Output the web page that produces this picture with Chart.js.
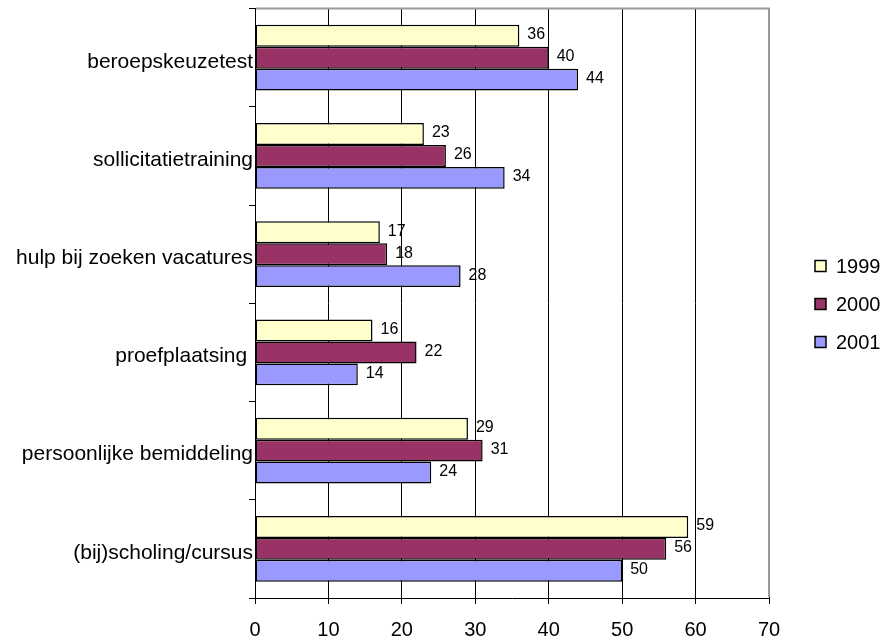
<!DOCTYPE html>
<html>
<head>
<meta charset="utf-8">
<script src="https://cdn.jsdelivr.net/npm/chart.js@4"></script>
<style>
  html, body { margin: 0; padding: 0; background: #fff; }
  #wrap { width: 884px; height: 642px; position: relative; }
</style>
</head>
<body>
<div id="wrap"><canvas id="grafiek"></canvas></div>
<script>
// Gegevens
const categorieen = [
  'beroepskeuzetest',
  'sollicitatietraining',
  'hulp bij zoeken vacatures',
  'proefplaatsing ',
  'persoonlijke bemiddeling',
  '(bij)scholing/cursus'
];
const jaren = ['1999', '2000', '2001'];
const waarden1999 = [36, 23, 17, 16, 29, 59];
const waarden2000 = [40, 26, 18, 22, 31, 56];
const waarden2001 = [44, 34, 28, 14, 24, 50];
const xTicks = [0, 10, 20, 30, 40, 50, 60, 70];

const kleuren = ['#FFFFCC', '#993366', '#9999FF'];
const lettertype = '"Liberation Sans", Arial, sans-serif';

// Waarden naast de balken
const waardeLabels = {
  id: 'waardeLabels',
  afterDatasetsDraw(chart) {
    const ctx = chart.ctx;
    ctx.save();
    ctx.font = '16px ' + lettertype;
    ctx.fillStyle = '#000';
    ctx.textAlign = 'left';
    ctx.textBaseline = 'middle';
    chart.data.datasets.forEach((ds, i) => {
      const meta = chart.getDatasetMeta(i);
      meta.data.forEach((el, j) => {
        ctx.fillText(String(ds.data[j]), el.x + 8, el.y - 1);
      });
    });
    ctx.restore();
  }
};

// Grijze rand boven en rechts van het plotgebied
const plotRand = {
  id: 'plotRand',
  afterDraw(chart) {
    const a = chart.chartArea;
    const ctx = chart.ctx;
    ctx.save();
    ctx.strokeStyle = '#9a9a9a';
    ctx.lineWidth = 2;
    ctx.beginPath();
    ctx.moveTo(a.left + 1, a.top);
    ctx.lineTo(a.right, a.top);
    ctx.lineTo(a.right, a.bottom - 1);
    ctx.stroke();
    ctx.restore();
  }
};

// Legenda rechts
const legenda = {
  id: 'legenda',
  afterDraw(chart) {
    const ctx = chart.ctx;
    ctx.save();
    ctx.font = '20px ' + lettertype;
    ctx.textAlign = 'left';
    ctx.textBaseline = 'middle';
    chart.data.datasets.forEach((ds, i) => {
      const y = 266 + i * 38;
      ctx.fillStyle = ds.backgroundColor;
      ctx.fillRect(815, y - 5.5, 11, 11);
      ctx.strokeStyle = '#000';
      ctx.lineWidth = 1.5;
      ctx.strokeRect(815, y - 5.5, 11, 11);
      ctx.fillStyle = '#000';
      ctx.fillText(ds.label, 836, y + 1);
    });
    ctx.restore();
  }
};

const reeksen = [waarden1999, waarden2000, waarden2001];

new Chart(document.getElementById('grafiek'), {
  type: 'bar',
  data: {
    labels: categorieen,
    datasets: reeksen.map((data, i) => ({
      label: jaren[i],
      data: data,
      backgroundColor: kleuren[i],
      borderColor: '#000',
      borderWidth: 1.5,
      borderSkipped: false,
      barPercentage: 1,
      categoryPercentage: 0.67
    }))
  },
  options: {
    indexAxis: 'y',
    responsive: true,
    maintainAspectRatio: false,
    animation: false,
    devicePixelRatio: 1,
    layout: { padding: { top: 8, right: 115, left: 0, bottom: 0 } },
    plugins: {
      legend: { display: false },
      tooltip: { enabled: false }
    },
    scales: {
      x: {
        min: 0,
        max: 70,
        afterBuildTicks: (scale) => { scale.ticks = xTicks.map(v => ({ value: v })); },
        afterFit: (scale) => { scale.height = 44; },
        ticks: {
          color: '#000',
          font: { family: lettertype, size: 20 },
          padding: 14,
          maxRotation: 0
        },
        grid: {
          color: '#000',
          lineWidth: 1,
          tickLength: 6,
          tickColor: '#000'
        },
        border: { color: '#000', width: 1 }
      },
      y: {
        afterFit: (scale) => { scale.width = 255; },
        ticks: {
          color: '#000',
          font: { family: lettertype, size: 21 },
          padding: -4,
          labelOffset: 4,
          autoSkip: false
        },
        grid: {
          offset: true,
          drawOnChartArea: false,
          drawTicks: true,
          tickLength: 6,
          color: '#000',
          tickColor: '#000'
        },
        border: { color: '#000', width: 1 }
      }
    }
  },
  plugins: [waardeLabels, plotRand, legenda]
});
</script>
</body>
</html>
